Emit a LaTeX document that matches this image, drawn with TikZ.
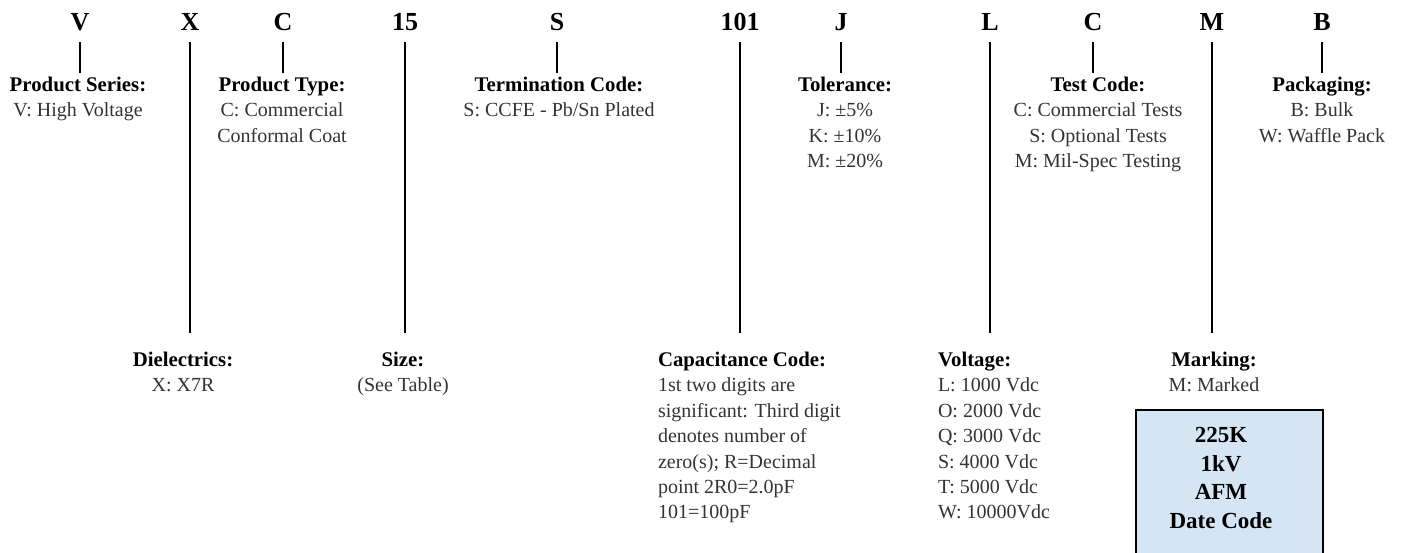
\documentclass[tikz,border=0pt]{standalone}
\usepackage{fontspec}
\setmainfont{Liberation Serif}
\usepackage{xcolor}
\usetikzlibrary{positioning}
\definecolor{pnGray}{HTML}{333333}
\definecolor{pnBlue}{HTML}{D6E5F4}
\newcommand{\pnhead}[1]{{\color{black}\fontsize{10.4}{12.7}\selectfont\bfseries #1}}

\begin{document}
\begin{tikzpicture}[x=0.5pt,y=-0.5pt,
  ltr/.style={font=\fontsize{13}{15}\selectfont\bfseries,anchor=base,
              inner xsep=0pt,inner ysep=6pt,text depth=0pt,outer sep=0pt},
  lbl/.style={anchor=north,align=center,inner xsep=0pt,inner ysep=2pt,outer sep=0pt,
              text=pnGray,font=\fontsize{10}{12.7}\selectfont},
  lblb/.style={lbl,inner ysep=9.5pt},
  ln/.style={line width=1pt}]
  \useasboundingbox (0,0) rectangle (1403,552);
  \node[ltr] (cV)   at (80,30)   {V};
  \node[ltr] (cX)   at (190,30)  {X};
  \node[ltr] (cC)   at (283,30)  {C};
  \node[ltr] (c15)  at (405,30)  {15};
  \node[ltr] (cS)   at (557,30)  {S};
  \node[ltr] (c101) at (740,30)  {101};
  \node[ltr] (cJ)   at (841,30)  {J};
  \node[ltr] (cL)   at (990,30)  {L};
  \node[ltr] (cT)   at (1093,30) {C};
  \node[ltr] (cM)   at (1212,30) {M};
  \node[ltr] (cB)   at (1322,30) {B};
  \node[lbl] (ser)  at (78,73)   {\pnhead{Product Series:}\\V: High Voltage};
  \node[lbl] (typ)  at (282,73)  {\pnhead{Product Type:}\\C: Commercial\\Conformal Coat};
  \node[lbl] (term) at (559,73)  {\pnhead{Termination Code:}\\S: CCFE - Pb/Sn Plated};
  \node[lbl] (tol)  at (845,73)  {\pnhead{Tolerance:}\\J: ±5\%\\K: ±10\%\\M: ±20\%};
  \node[lbl] (test) at (1098,73) {\pnhead{Test Code:}\\C: Commercial Tests\\S: Optional Tests\\M: Mil-Spec Testing};
  \node[lbl] (pack) at (1322,73) {\pnhead{Packaging:}\\B: Bulk\\W: Waffle Pack};
  \node[lblb] (diel) at (183,333) {\pnhead{Dielectrics:}\\X: X7R};
  \node[lblb] (size) at (403,333) {\pnhead{Size:}\\(See Table)};
  \node[lblb,anchor=north west,align=left] (cap) at (658,333)
    {\pnhead{Capacitance Code:}\\1st two digits are\\significant: Third digit\\denotes number of\\zero(s); R=Decimal\\point 2R0=2.0pF\\101=100pF};
  \node[lblb,anchor=north west,align=left] (volt) at (938,333)
    {\pnhead{Voltage:}\\L: 1000 Vdc\\O: 2000 Vdc\\Q: 3000 Vdc\\S: 4000 Vdc\\T: 5000 Vdc\\W: 10000Vdc};
  \node[lblb] (mark) at (1214,333) {\pnhead{Marking:}\\M: Marked};
  \node[draw,ln,fill=pnBlue,minimum width=93.5pt,minimum height=80pt,anchor=north] (mbox) at (1229.5,409) {};
  \node[font=\fontsize{11.5}{14.25}\selectfont\bfseries,align=center,anchor=north,inner sep=0pt] (mtxt) at (1221,427)
    {225K\\1kV\\AFM\\Date Code};
  \foreach \p/\q in {cV/ser,cC/typ,cS/term,cJ/tol,cT/test,cB/pack,cX/diel,c15/size,c101/cap,cL/volt,cM/mark}
    \draw[ln] (\p.south) -- (\p.south |- \q.north);
\end{tikzpicture}
\end{document}
